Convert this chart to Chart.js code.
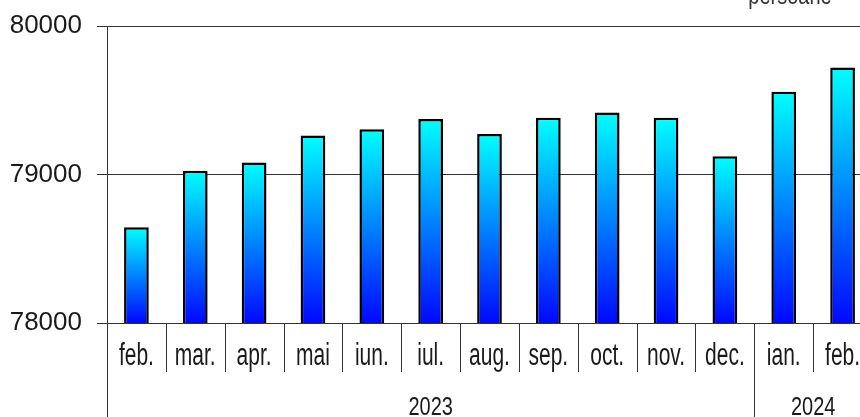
<!DOCTYPE html>
<html><head><meta charset="utf-8">
<script src="https://cdn.jsdelivr.net/npm/chart.js@4"></script>
<style>
html,body{margin:0;padding:0;overflow:hidden;background:#fff}
#wrap{width:874px;height:440px;position:relative;margin-top:-2px}
</style></head>
<body><div id="wrap"><canvas id="c" width="874" height="440"></canvas></div>
<script>
const months = ['feb.','mar.','apr.','mai','iun.','iul.','aug.','sep.','oct.','nov.','dec.','ian.','feb.'];
const values = [78645, 79025, 79080, 79263, 79305, 79373, 79272, 79382, 79418, 79382, 79123, 79558, 79720];
const yearLabels = ['2023', '2024'];
const yearStart = [0, 11];
const yearEnd = [10, 12];
const yMin = 78000, yMax = 80000, yStep = 1000;
const unitLabel = 'persoane';

const TEXT = '#1a1a1a';
const FONT = '"Liberation Sans", Arial, sans-serif';

const overlay = {
  id: 'overlay',
  afterDraw(chart) {
    const ctx = chart.ctx, xs = chart.scales.x, ca = chart.chartArea;
    const half = (xs.getPixelForValue(1) - xs.getPixelForValue(0)) / 2;
    const H = chart.height;
    ctx.save();
    ctx.strokeStyle = '#333';
    ctx.lineWidth = 1;
    for (let b = 0; b <= months.length; b++) {
      const x = Math.round(xs.getPixelForValue(b) - half) + 0.5;
      const long = yearStart.includes(b);
      ctx.beginPath();
      ctx.moveTo(x, ca.bottom);
      ctx.lineTo(x, long ? H : ca.bottom + 49);
      ctx.stroke();
    }
    ctx.fillStyle = TEXT;
    ctx.textAlign = 'center';
    ctx.textBaseline = 'alphabetic';
    ctx.font = '21px ' + FONT;
    months.forEach((m, i) => {
      ctx.save();
      ctx.translate(xs.getPixelForValue(i), ca.bottom + 42);
      ctx.scale(1, 1.45);
      ctx.fillText(m, 0, 0);
      ctx.restore();
    });
    ctx.font = '20px ' + FONT;
    yearLabels.forEach((yl, k) => {
      const x0 = xs.getPixelForValue(yearStart[k]) - half;
      const x1 = xs.getPixelForValue(yearEnd[k]) + half;
      ctx.save();
      ctx.translate((x0 + x1) / 2, ca.bottom + 92);
      ctx.scale(1, 1.33);
      ctx.fillText(yl, 0, 0);
      ctx.restore();
    });
    ctx.font = '20px ' + FONT;
    ctx.fillStyle = '#333';
    ctx.save();
    ctx.translate(790, 5.5);
    ctx.scale(1, 1.3);
    ctx.fillText(unitLabel, 0, 0);
    ctx.restore();
    ctx.restore();
  }
};

new Chart(document.getElementById('c'), {
  type: 'bar',
  data: {
    labels: months,
    datasets: [{
      data: values,
      backgroundColor: (c) => {
        const chart = c.chart;
        if (!chart.chartArea || c.type !== 'data') return '#0080ff';
        const y = chart.scales.y;
        const top = y.getPixelForValue(c.raw);
        const bot = y.getPixelForValue(yMin);
        const g = chart.ctx.createLinearGradient(0, top, 0, bot);
        g.addColorStop(0, '#00ffff');
        g.addColorStop(1, '#0008ff');
        return g;
      },
      borderColor: '#000',
      borderWidth: 2.5,
      borderSkipped: false,
      barPercentage: 0.42,
      categoryPercentage: 1.0
    }]
  },
  options: {
    responsive: false,
    animation: false,
    devicePixelRatio: 1,
    layout: { padding: { left: 0, top: 24, right: 2, bottom: 0 } },
    plugins: { legend: { display: false }, tooltip: { enabled: false } },
    scales: {
      x: {
        grid: { display: false },
        border: { display: true, color: '#333', width: 1 },
        ticks: { display: false },
        afterFit(s) { s.height = 115; }
      },
      y: {
        min: yMin, max: yMax,
        ticks: { stepSize: yStep, color: TEXT, font: { size: 26, family: FONT, lineHeight: 1 }, padding: 15,
                 callback: (v) => String(v) },
        grid: { color: '#333', lineWidth: 1, tickLength: 10 },
        border: { display: true, color: '#333', width: 1 },
        afterFit(s) { s.width = 107; }
      }
    }
  },
  plugins: [overlay]
});
</script>
</body></html>
